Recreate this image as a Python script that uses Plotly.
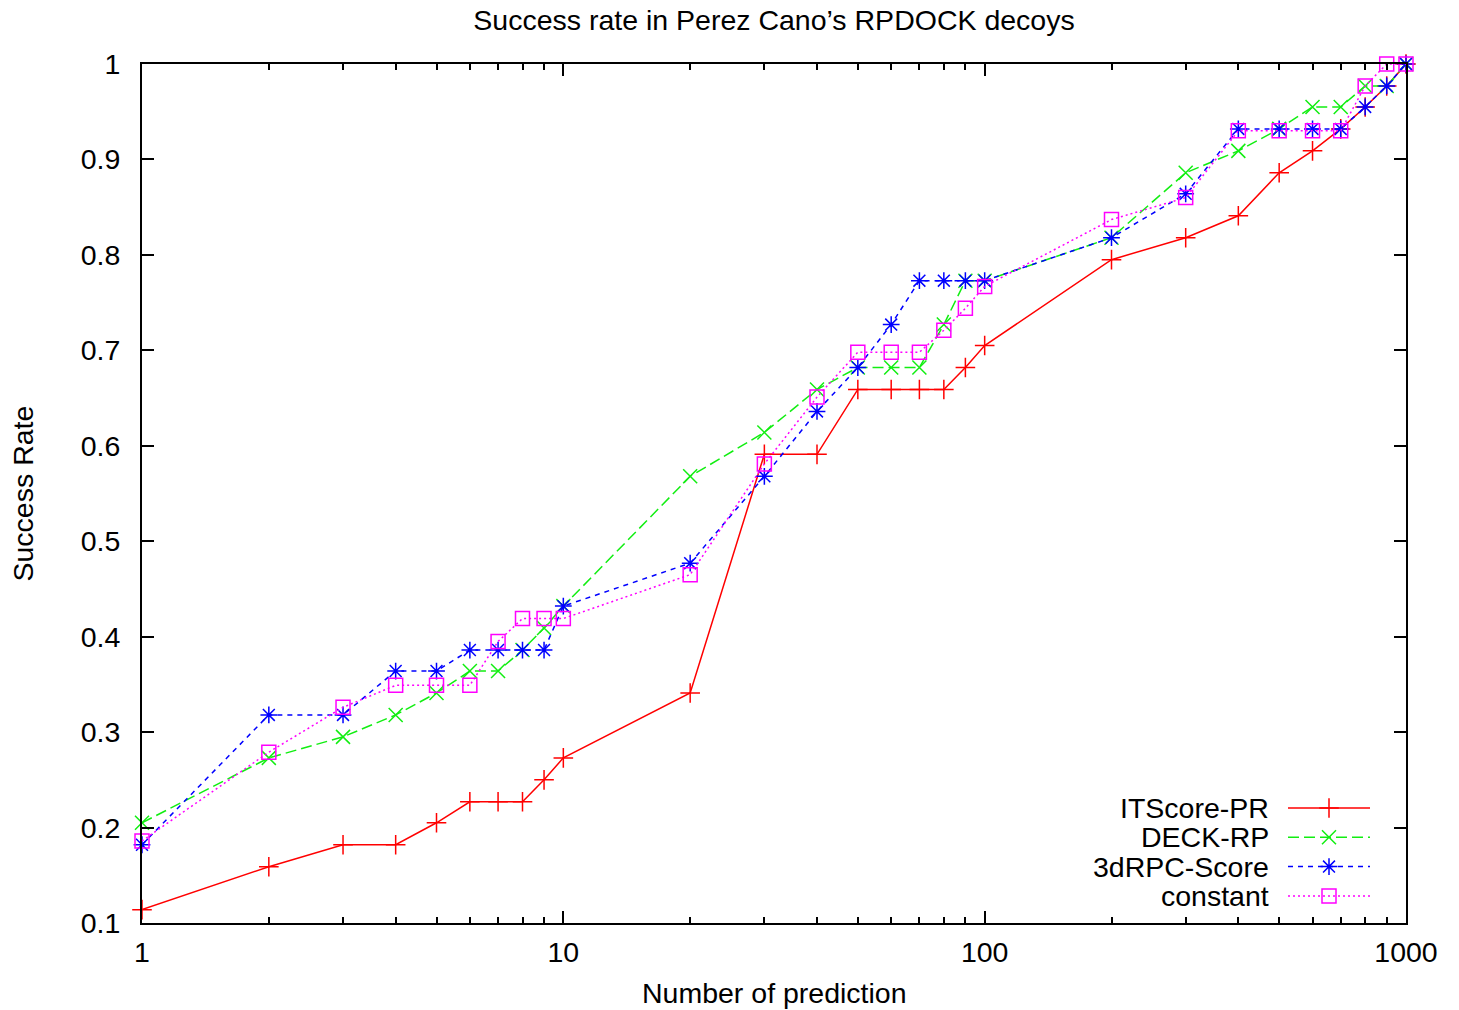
import plotly.graph_objects as go

# ---- data ----
n_pred = [1, 2, 3, 4, 5, 6, 7, 8, 9, 10, 20, 30, 40, 50, 60, 70, 80, 90, 100,
          200, 300, 400, 500, 600, 700, 800, 900, 1000]
itscore_pr = [0.114, 0.159, 0.182, 0.182, 0.205, 0.227, 0.227, 0.227, 0.250, 0.273,
              0.341, 0.591, 0.591, 0.659, 0.659, 0.659, 0.659, 0.682, 0.705,
              0.795, 0.818, 0.841, 0.886, 0.909, 0.932, 0.955, 0.977, 1.000]
deck_rp = [0.205, 0.273, 0.295, 0.318, 0.341, 0.364, 0.364, 0.386, 0.409, 0.432,
           0.568, 0.614, 0.659, 0.682, 0.682, 0.682, 0.727, 0.773, 0.773,
           0.818, 0.886, 0.909, 0.932, 0.955, 0.955, 0.977, 0.977, 1.000]
rpc3d_score = [0.182, 0.318, 0.318, 0.364, 0.364, 0.386, 0.386, 0.386, 0.386, 0.432,
               0.477, 0.568, 0.636, 0.682, 0.727, 0.773, 0.773, 0.773, 0.773,
               0.818, 0.864, 0.932, 0.932, 0.932, 0.932, 0.955, 0.977, 1.000]
constant = [0.186, 0.279, 0.326, 0.349, 0.349, 0.349, 0.395, 0.419, 0.419, 0.419,
            0.465, 0.581, 0.651, 0.698, 0.698, 0.698, 0.721, 0.744, 0.767,
            0.837, 0.860, 0.930, 0.930, 0.930, 0.930, 0.977, 1.000, 1.000]

series_names = ["ITScore-PR", "DECK-RP", "3dRPC-Score", "constant"]
y_ticks = [0.1, 0.2, 0.3, 0.4, 0.5, 0.6, 0.7, 0.8, 0.9, 1]
x_ticks = [1, 10, 100, 1000]

# ---- styles ----
FONT = "Liberation Sans, Arial, Helvetica, sans-serif"
FS = 28.5
styles = [
    dict(color="#ff0000", dash="solid", symbol="cross-thin-open"),
    dict(color="#11ee11", dash="11px,5px", symbol="x-thin-open"),
    dict(color="#0000ff", dash="5px,5px", symbol="asterisk-open"),
    dict(color="#ff00ff", dash="2px,3px", symbol="square-open"),
]
MSIZE = 14

W, H = 1459, 1010
ML, MR, MT, MB = 142, 53, 64, 87
PW, PH = W - ML - MR, H - MT - MB

fig = go.Figure()
all_series = [itscore_pr, deck_rp, rpc3d_score, constant]
for name, vals, st in zip(series_names, all_series, styles):
    fig.add_trace(go.Scatter(
        x=n_pred, y=vals, name=name, mode="lines+markers",
        line=dict(color=st["color"], width=1.5, dash=st["dash"]),
        marker=dict(symbol=st["symbol"], size=MSIZE, color=st["color"],
                    line=dict(color=st["color"], width=1.5)),
        cliponaxis=False, showlegend=False,
    ))

# ---- gnuplot-style key (bottom right, text left of sample) ----
def fx(px):
    return (px - ML) / PW

def fy(py):
    return (MT + PH - py) / PH

KEY_TEXT_RIGHT = 1271
KEY_LINE_X0, KEY_LINE_X1 = 1288, 1370
KEY_ROW0, KEY_ROW_STEP = 808, 29.3
for i, (name, st) in enumerate(zip(series_names, styles)):
    row_y = fy(KEY_ROW0 + i * KEY_ROW_STEP)
    fig.add_trace(go.Scatter(
        x=[fx(KEY_LINE_X0), fx(KEY_LINE_X1)], y=[row_y, row_y],
        mode="lines", xaxis="x2", yaxis="y2", showlegend=False, hoverinfo="skip",
        line=dict(color=st["color"], width=1.5, dash=st["dash"]),
    ))
    fig.add_trace(go.Scatter(
        x=[(fx(KEY_LINE_X0) + fx(KEY_LINE_X1)) / 2], y=[row_y],
        mode="markers", xaxis="x2", yaxis="y2", showlegend=False, hoverinfo="skip",
        marker=dict(symbol=st["symbol"], size=MSIZE, color=st["color"],
                    line=dict(color=st["color"], width=1.5)),
    ))
    fig.add_annotation(
        x=fx(KEY_TEXT_RIGHT), y=row_y, xref="paper", yref="paper",
        text=name, showarrow=False, xanchor="right", yanchor="middle",
        font=dict(family=FONT, size=FS, color="black"),
    )

# axis titles
fig.add_annotation(x=0.5, y=fy(993), xref="paper", yref="paper",
                   text="Number of prediction", showarrow=False,
                   xanchor="center", yanchor="middle",
                   font=dict(family=FONT, size=FS, color="black"))
fig.add_annotation(x=fx(22), y=0.5, xref="paper", yref="paper",
                   text="Success Rate", showarrow=False, textangle=-90,
                   xanchor="center", yanchor="middle",
                   font=dict(family=FONT, size=FS, color="black"))

fig.update_layout(
    width=W, height=H,
    margin=dict(l=ML, r=MR, t=MT, b=MB, autoexpand=False),
    paper_bgcolor="white", plot_bgcolor="white",
    font=dict(family=FONT, size=FS, color="black"),
    title=dict(text="Success rate in Perez Cano’s RPDOCK decoys",
               x=0.5, xref="paper", y=1 - 20 / H, yref="container",
               xanchor="center", yanchor="middle",
               font=dict(family=FONT, size=FS, color="black")),
    showlegend=False,
    xaxis=dict(
        type="log", range=[0, 3], tickvals=x_ticks, ticktext=[str(v) for v in x_ticks],
        ticks="inside", ticklen=12, tickwidth=2, tickcolor="black",
        minor=dict(ticks="inside", ticklen=6, tickwidth=1.5, tickcolor="black",
                   dtick="D1", showgrid=False),
        showline=True, linecolor="black", linewidth=2, mirror="allticks",
        showgrid=False, zeroline=False, ticklabelstandoff=3,
        tickfont=dict(family=FONT, size=FS, color="black"),
    ),
    yaxis=dict(
        range=[0.1, 1], tickvals=y_ticks, ticktext=[f"{v:g}" for v in y_ticks],
        ticks="inside", ticklen=12, tickwidth=2, tickcolor="black",
        showline=True, linecolor="black", linewidth=2, mirror="allticks",
        showgrid=False, zeroline=False, ticklabelstandoff=14,
        tickfont=dict(family=FONT, size=FS, color="black"),
    ),
    xaxis2=dict(range=[0, 1], overlaying="x", visible=False, fixedrange=True),
    yaxis2=dict(range=[0, 1], overlaying="y", visible=False, fixedrange=True),
)

fig.write_html(
    "out.html",
    config={"displayModeBar": False},
    post_script="document.body.style.margin='0';document.body.style.overflow='hidden';",
)
